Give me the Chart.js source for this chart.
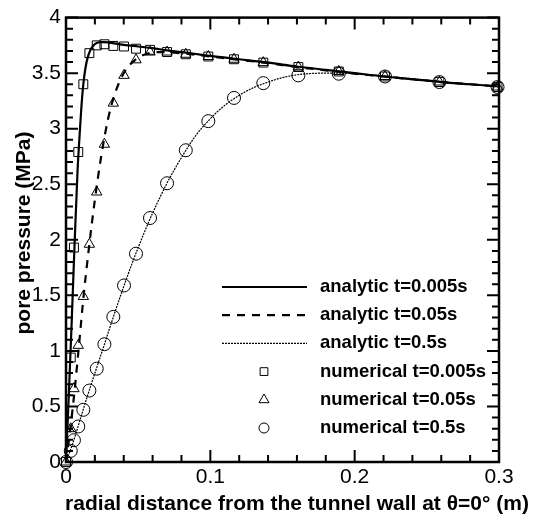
<!DOCTYPE html>
<html>
<head>
<meta charset="utf-8">
<script src="https://cdn.jsdelivr.net/npm/chart.js@4/dist/chart.umd.min.js"></script>
<style>
    html, body { margin: 0; padding: 0; background: #fff; }
    #wrap { width: 547px; height: 516px; }
</style>
</head>
<body>
<div id="wrap"><canvas id="poreChart" width="547" height="516"></canvas></div>
<script>
// Axis ticks
const X_TICKS = [0, 0.1, 0.2, 0.3];
const Y_TICKS = [0, 0.5, 1, 1.5, 2, 2.5, 3, 3.5, 4];
const X_MINOR_STEP = 0.02;
const Y_MINOR_STEP = 0.1;

// Analytic solutions
const AN_005_X = [0, 0.002, 0.004, 0.006, 0.008, 0.0097, 0.0108, 0.012, 0.0134, 0.015, 0.0168, 0.0185, 0.0205, 0.023, 0.026, 0.03, 0.035, 0.04, 0.05, 0.06, 0.07, 0.08, 0.1, 0.12, 0.14, 0.16, 0.18, 0.2, 0.22, 0.24, 0.26, 0.28, 0.3];
const AN_005_Y = [0, 0.62, 1.28, 1.98, 2.62, 3.0, 3.22, 3.4, 3.54, 3.64, 3.705, 3.74, 3.765, 3.778, 3.78, 3.775, 3.765, 3.755, 3.74, 3.725, 3.705, 3.69, 3.655, 3.625, 3.595, 3.56, 3.53, 3.5, 3.47, 3.445, 3.42, 3.4, 3.38];

const AN_05_X = [0, 0.003, 0.006, 0.009, 0.012, 0.016, 0.02, 0.0245, 0.029, 0.033, 0.037, 0.042, 0.048, 0.055, 0.065, 0.075, 0.09, 0.1, 0.12, 0.14, 0.16, 0.18, 0.2, 0.22, 0.24, 0.26, 0.28, 0.3];
const AN_05_Y = [0, 0.3, 0.65, 1.05, 1.47, 1.94, 2.36, 2.76, 3.08, 3.28, 3.42, 3.54, 3.62, 3.67, 3.69, 3.685, 3.665, 3.65, 3.62, 3.59, 3.555, 3.525, 3.495, 3.47, 3.445, 3.42, 3.4, 3.38];

const AN_5_X = [0, 0.005, 0.01, 0.015, 0.02, 0.025, 0.03, 0.035, 0.04, 0.045, 0.05, 0.055, 0.06, 0.07, 0.08, 0.09, 0.1, 0.11, 0.12, 0.13, 0.14, 0.15, 0.16, 0.17, 0.18, 0.19, 0.2, 0.22, 0.24, 0.26, 0.28, 0.3];
const AN_5_Y = [0, 0.18, 0.39, 0.6, 0.8, 0.995, 1.195, 1.39, 1.58, 1.76, 1.93, 2.09, 2.24, 2.51, 2.74, 2.94, 3.09, 3.21, 3.3, 3.37, 3.42, 3.46, 3.485, 3.497, 3.5, 3.5, 3.495, 3.475, 3.45, 3.425, 3.4, 3.38];

// Numerical results (same mesh nodes for all three times)
const NUM_X = [0, 0.0033, 0.0055, 0.0085, 0.012, 0.0162, 0.0213, 0.0266, 0.0328, 0.0402, 0.0485, 0.0582, 0.070, 0.083, 0.0986, 0.1164, 0.1367, 0.161, 0.189, 0.221, 0.2587, 0.299];
const NUM_005 = [0, 0.94, 1.93, 2.79, 3.40, 3.68, 3.75, 3.76, 3.745, 3.74, 3.72, 3.71, 3.69, 3.67, 3.65, 3.625, 3.595, 3.555, 3.515, 3.47, 3.42, 3.375];
const NUM_05 = [0, 0.30, 0.66, 1.05, 1.49, 1.96, 2.43, 2.86, 3.23, 3.48, 3.62, 3.69, 3.69, 3.67, 3.65, 3.625, 3.595, 3.555, 3.515, 3.47, 3.42, 3.375];
const NUM_5 = [0, 0.10, 0.196, 0.32, 0.47, 0.643, 0.84, 1.06, 1.306, 1.589, 1.875, 2.196, 2.509, 2.806, 3.068, 3.277, 3.41, 3.48, 3.495, 3.47, 3.42, 3.375];

const LABELS = [
    'analytic t=0.005s', 'analytic t=0.05s', 'analytic t=0.5s',
    'numerical t=0.005s', 'numerical t=0.05s', 'numerical t=0.5s'
];

const X_TITLE = 'radial distance from the tunnel wall at \u03B8=0\u00B0 (m)';
const Y_TITLE = 'pore pressure (MPa)';

const FONT = '"Liberation Sans", Arial, sans-serif';

const zip = (xs, ys) => xs.map((x, i) => ({ x: x, y: ys[i] }));

function curve(label, xs, ys, width, dash) {
    return {
        label: label,
        data: zip(xs, ys),
        borderColor: '#000',
        borderWidth: width,
        borderDash: dash,
        pointRadius: 0,
        fill: false,
        cubicInterpolationMode: 'monotone'
    };
}

function markers(label, ys, style, radius, legendRadius) {
    return {
        label: label,
        data: zip(NUM_X, ys),
        showLine: false,
        pointStyle: style,
        pointRadius: radius,
        pointBorderWidth: 1,
        pointBorderColor: '#000',
        pointBackgroundColor: 'rgba(0,0,0,0)',
        borderColor: '#000',
        legendRadius: legendRadius,
        clip: false
    };
}

// Inward major/minor ticks on all four sides, the frame and axis titles
const frameTicks = {
    id: 'frameTicks',
    afterDraw(chart) {
        const ctx = chart.ctx;
        const a = chart.chartArea;
        const xs = chart.scales.x, ys = chart.scales.y;
        ctx.save();
        ctx.setLineDash([]);
        ctx.strokeStyle = '#000';
        ctx.lineWidth = 2;

        ctx.beginPath();
        const nx = Math.round(0.3 / X_MINOR_STEP);
        for (let i = 0; i <= nx; i++) {
            const len = i % 5 === 0 ? 12 : 7;
            const px = xs.getPixelForValue(i * X_MINOR_STEP);
            ctx.moveTo(px, a.bottom);
            ctx.lineTo(px, a.bottom - len);
            ctx.moveTo(px, a.top);
            ctx.lineTo(px, a.top + len);
        }
        const ny = Math.round(4 / Y_MINOR_STEP);
        for (let i = 0; i <= ny; i++) {
            const len = i % 5 === 0 ? 12 : 7;
            const py = ys.getPixelForValue(i * Y_MINOR_STEP);
            ctx.moveTo(a.left, py);
            ctx.lineTo(a.left + len, py);
            ctx.moveTo(a.right, py);
            ctx.lineTo(a.right - len, py);
        }
        ctx.stroke();

        ctx.lineWidth = 2.5;
        ctx.strokeRect(a.left, a.top, a.right - a.left, a.bottom - a.top);

        ctx.fillStyle = '#000';
        ctx.font = 'bold 21px ' + FONT;
        ctx.textAlign = 'center';
        ctx.textBaseline = 'alphabetic';
        ctx.fillText(X_TITLE, 297, 510);
        ctx.translate(30, 233);
        ctx.rotate(-Math.PI / 2);
        ctx.fillText(Y_TITLE, 0, 0);
        ctx.restore();
    }
};

// Legend inside the plot: line samples or markers, then the label
const innerLegend = {
    id: 'innerLegend',
    afterDatasetsDraw(chart) {
        const ctx = chart.ctx;
        ctx.save();
        ctx.font = 'bold 18.5px ' + FONT;
        ctx.textAlign = 'left';
        ctx.textBaseline = 'middle';
        chart.data.datasets.forEach((ds, i) => {
            const y = 287 + i * 28.2;
            ctx.strokeStyle = '#000';
            if (ds.showLine === false) {
                ctx.fillStyle = 'rgba(0,0,0,0)';
                ctx.lineWidth = 1;
                Chart.helpers.drawPoint(ctx, {
                    pointStyle: ds.pointStyle,
                    radius: ds.legendRadius,
                    borderWidth: 1,
                    rotation: 0
                }, 264, y);
            } else {
                ctx.lineWidth = ds.borderWidth;
                ctx.setLineDash(ds.borderDash || []);
                ctx.beginPath();
                ctx.moveTo(222, y);
                ctx.lineTo(307, y);
                ctx.stroke();
                ctx.setLineDash([]);
            }
            ctx.fillStyle = '#000';
            ctx.fillText(ds.label, 320, y);
        });
        ctx.restore();
    }
};

const chart = new Chart(document.getElementById('poreChart').getContext('2d'), {
    type: 'line',
    data: {
        datasets: [
            curve(LABELS[0], AN_005_X, AN_005_Y, 2.2, []),
            curve(LABELS[1], AN_05_X, AN_05_Y, 2.2, [8, 7]),
            curve(LABELS[2], AN_5_X, AN_5_Y, 1.2, [2, 1]),
            markers(LABELS[3], NUM_005, 'rect', 6.3, 5.5),
            markers(LABELS[4], NUM_05, 'triangle', 6, 5.8),
            markers(LABELS[5], NUM_5, 'circle', 6.5, 5)
        ]
    },
    options: {
        responsive: false,
        animation: false,
        layout: { padding: { left: 0, top: 14, right: 48, bottom: 0 } },
        plugins: {
            legend: { display: false },
            tooltip: { enabled: false }
        },
        scales: {
            x: {
                type: 'linear',
                min: 0,
                max: 0.3,
                grid: { display: false, drawTicks: false },
                border: { display: false },
                afterBuildTicks: scale => { scale.ticks = X_TICKS.map(v => ({ value: v })); },
                afterFit: scale => { scale.height = 54; },
                ticks: {
                    padding: 3,
                    color: '#000',
                    maxRotation: 0,
                    font: { family: FONT, size: 21 },
                    callback: v => String(v)
                }
            },
            y: {
                type: 'linear',
                min: 0,
                max: 4,
                grid: { display: false, drawTicks: false },
                border: { display: false },
                afterBuildTicks: scale => { scale.ticks = Y_TICKS.map(v => ({ value: v })); },
                afterFit: scale => { scale.width = 66; },
                ticks: {
                    padding: 5,
                    color: '#000',
                    font: { family: FONT, size: 21 },
                    callback: v => String(v)
                }
            }
        }
    },
    plugins: [frameTicks, innerLegend]
});
</script>
</body>
</html>
